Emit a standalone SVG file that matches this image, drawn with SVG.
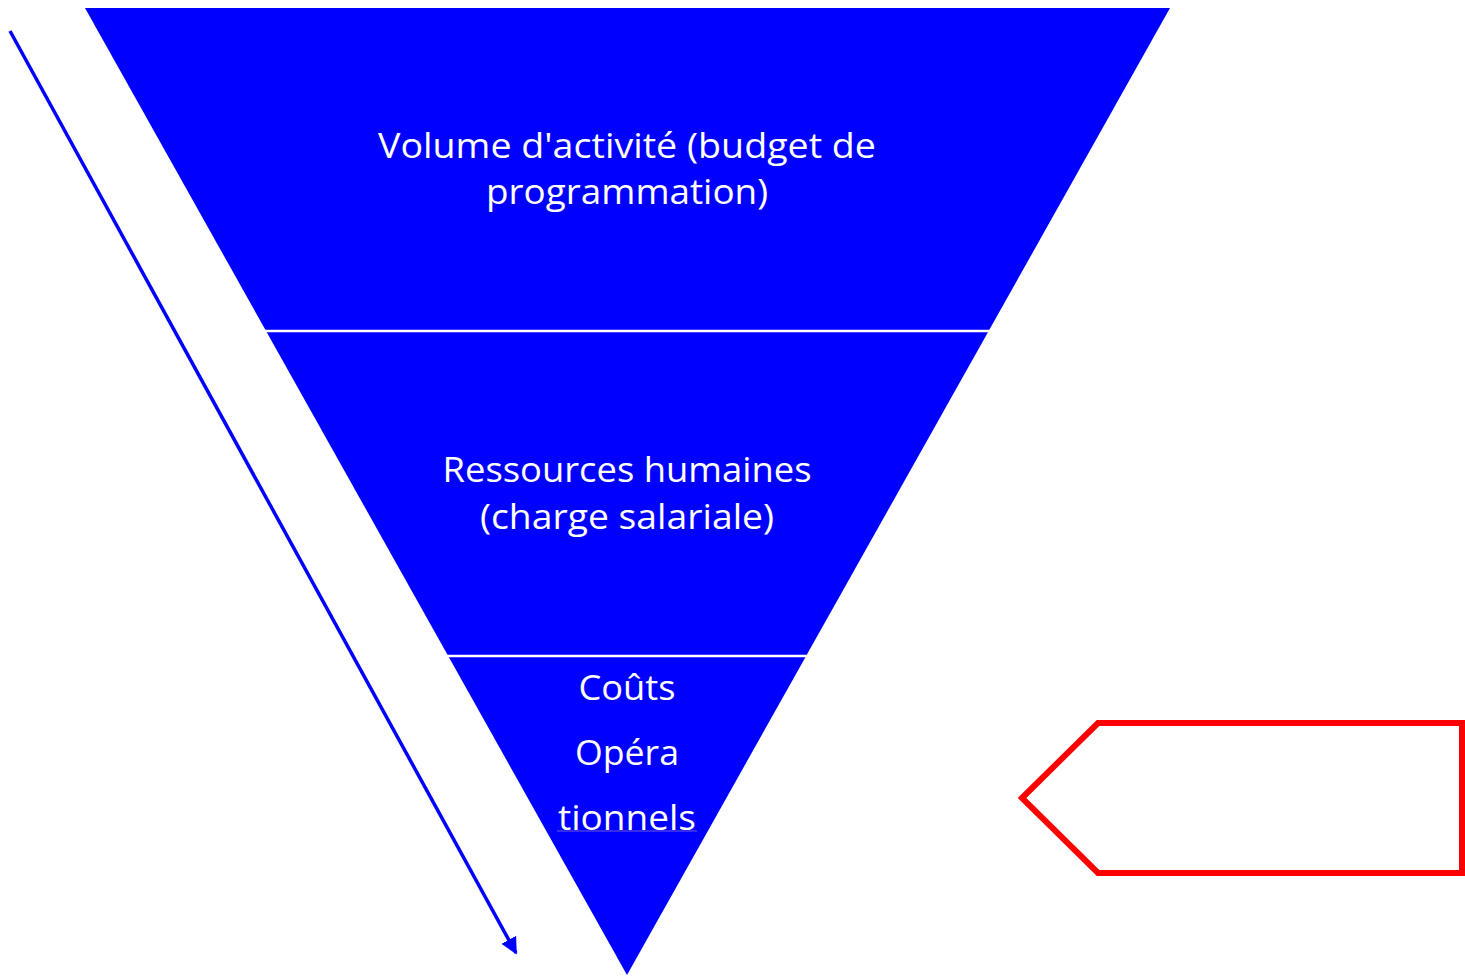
<svg xmlns="http://www.w3.org/2000/svg" width="1465" height="976" viewBox="0 0 1465 976">
  <style>
    .lbl { font-family: "Open Sans", "Liberation Sans", Arial, sans-serif; font-size: 35px; fill: #ffffff; text-anchor: middle; }
    .div { stroke: #ffffff; stroke-width: 2.5; }
  </style>
  <defs>
    <marker id="ah" viewBox="0 0 10 10" refX="9" refY="5" markerWidth="4.8" markerHeight="4.8" orient="auto" markerUnits="strokeWidth">
      <path d="M0,0 L10,5 L0,10 z" fill="#0000ff"/>
    </marker>
  </defs>
  <rect width="1465" height="976" fill="#ffffff"/>
  <g id="funnel">
    <polygon points="85,8 1170,8 627,975" fill="#0000ff"/>
    <line class="div" x1="262" y1="331" x2="992" y2="331"/>
    <line class="div" x1="444" y1="656" x2="810" y2="656"/>
  </g>
  <g id="level-1">
    <text class="lbl" x="627" y="158" textLength="498" lengthAdjust="spacingAndGlyphs">Volume d'activité (budget de</text>
    <text class="lbl" x="627" y="204" textLength="282" lengthAdjust="spacingAndGlyphs">programmation)</text>
  </g>
  <g id="level-2">
    <text class="lbl" x="627" y="482" textLength="369" lengthAdjust="spacingAndGlyphs">Ressources humaines</text>
    <text class="lbl" x="627" y="529" textLength="294" lengthAdjust="spacingAndGlyphs">(charge salariale)</text>
  </g>
  <g id="level-3">
    <text class="lbl" x="627" y="700" textLength="97" lengthAdjust="spacingAndGlyphs">Coûts</text>
    <text class="lbl" x="627" y="765" textLength="104" lengthAdjust="spacingAndGlyphs">Opéra</text>
    <text class="lbl" x="627" y="830" textLength="138" lengthAdjust="spacingAndGlyphs">tionnels</text>
    <line x1="557" y1="831" x2="697" y2="831" stroke="#8a70d0" stroke-width="1" opacity="0.8"/>
  </g>
  <g id="pentagon">
    <polygon points="1022,798 1098,723 1462,723 1462,873 1098,873" fill="none" stroke="#ff0000" stroke-width="6"/>
  </g>
  <g id="connectors">
    <line x1="10" y1="31" x2="516" y2="953" stroke="#0000ff" stroke-width="3.5" marker-end="url(#ah)"/>
  </g>
</svg>
